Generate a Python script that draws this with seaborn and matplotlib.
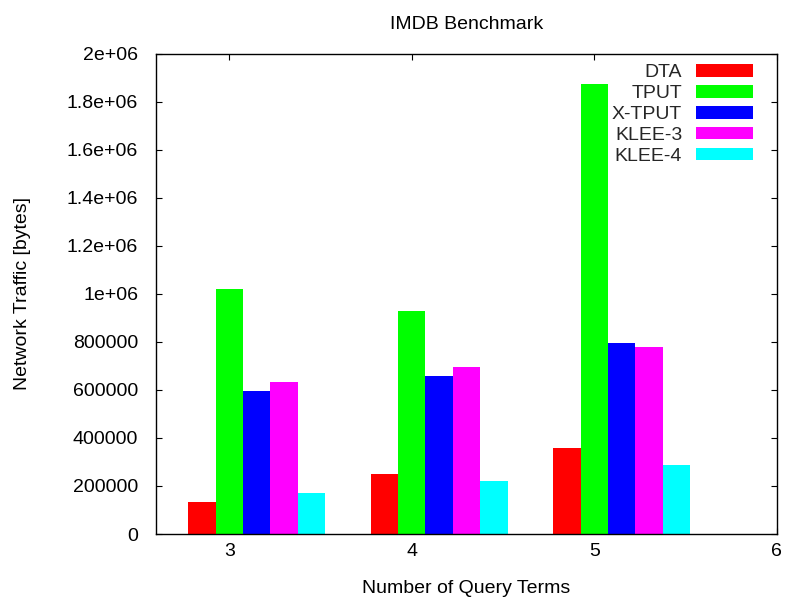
import numpy as np
import pandas as pd
import matplotlib
matplotlib.use("Agg")
import matplotlib.pyplot as plt
import seaborn as sns
from matplotlib.patches import Patch

# ---- data ----
query_terms = [3, 4, 5]
methods = ["DTA", "TPUT", "X-TPUT", "KLEE-3", "KLEE-4"]
dta = [135000, 249000, 360000]
tput = [1021000, 929000, 1874000]
xtput = [597000, 658000, 796000]
klee3 = [631000, 695000, 780000]
klee4 = [171000, 221000, 287000]
colors = ["#ff0000", "#00ff00", "#0000ff", "#ff00ff", "#00ffff"]
ytick_values = [0, 200000, 400000, 600000, 800000, 1000000, 1200000,
                1400000, 1600000, 1800000, 2000000]
ytick_labels = ["0", "200000", "400000", "600000", "800000", "1e+06",
                "1.2e+06", "1.4e+06", "1.6e+06", "1.8e+06", "2e+06"]
xtick_values = [3, 4, 5, 6]

series = [dta, tput, xtput, klee3, klee4]
rows = []
for m, vals in zip(methods, series):
    for t, v in zip(query_terms, vals):
        rows.append({"terms": t, "method": m, "traffic": v})
df = pd.DataFrame(rows)
# group is drawn with TPUT centred on the tick (gnuplot layout)
df["pos"] = df["terms"] + 0.15

sns.set_theme(style="white")
plt.rcParams["font.family"] = ["Liberation Sans", "DejaVu Sans"]

fig = plt.figure(figsize=(7.87, 5.98), dpi=100)
ax = fig.add_axes([0.1986, 0.107, 0.7884, 0.8033])

sns.barplot(data=df, x="pos", y="traffic", hue="method", hue_order=methods,
            palette=colors, native_scale=True, width=0.75, dodge=True,
            saturation=1, errorbar=None, linewidth=0, ax=ax, legend=False)

ax.set_xlim(2.6, 6.0)
ax.set_ylim(0, 2000000)
ax.set_xticks(xtick_values)
ax.set_xticklabels([str(v) for v in xtick_values])
ax.set_yticks(ytick_values)
ax.set_yticklabels(ytick_labels)

fs = 14
ax.tick_params(axis="both", which="both", direction="in", length=4.5,
               width=0.8, color="black", labelsize=fs, labelcolor="black",
               top=True, right=True, bottom=True, left=True)
ax.tick_params(axis="x", pad=6.5)
ax.tick_params(axis="y", pad=13)
for s in ax.spines.values():
    s.set_visible(True)
    s.set_color("black")
    s.set_linewidth(1.0)

ax.set_xlabel("Number of Query Terms", fontsize=fs, color="black",
              va="baseline", ha="center")
ax.xaxis.set_label_coords(0.5, -0.1235)
ax.set_ylabel("Network Traffic [bytes]", fontsize=fs, color="black",
              va="center", ha="center")
ax.yaxis.set_label_coords(-0.215, 0.5)
ax.set_title("IMDB Benchmark", fontsize=fs, color="black", y=1.0515,
             va="baseline", pad=0)

handles = [Patch(facecolor=c, edgecolor="none") for c in colors]
leg = ax.legend(handles, methods, loc="upper right", bbox_to_anchor=(0.967, 0.984),
                frameon=False, markerfirst=False, fontsize=fs,
                handlelength=2.94, handleheight=0.62, labelspacing=0.19,
                handletextpad=0.72, borderpad=0.15, borderaxespad=0)
for t in leg.get_texts():
    t.set_ha("right")

fig.savefig("out.png", dpi=100, facecolor="white")
